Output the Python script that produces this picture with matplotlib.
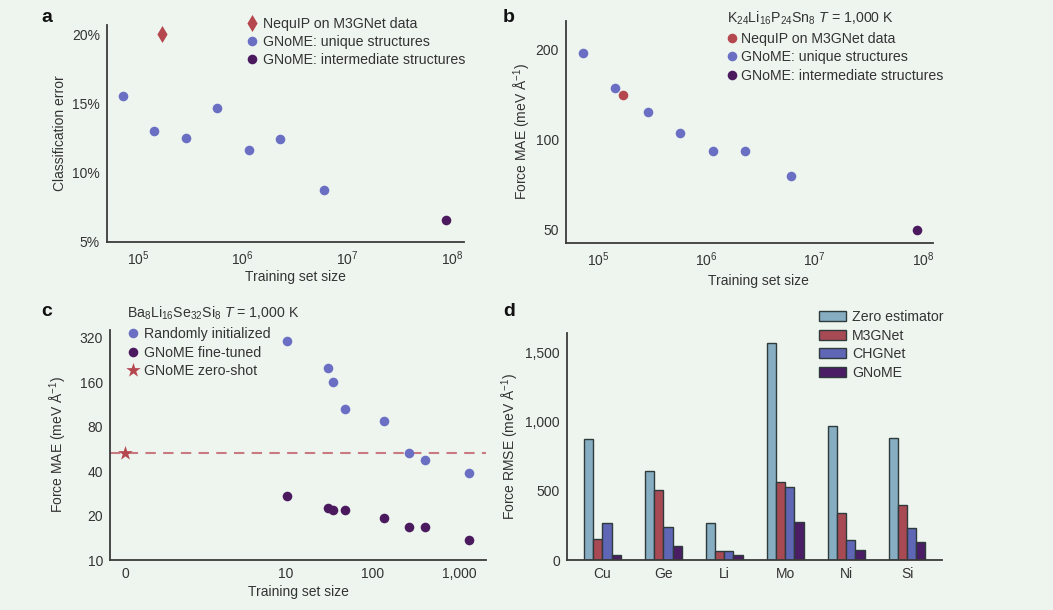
import numpy as np
import matplotlib
matplotlib.use("Agg")
import matplotlib.pyplot as plt

# ---- data ----
# a / b : training-set scaling
sizes_unique = [7.2e4, 1.43e5, 2.9e5, 5.7e5, 1.14e6, 2.28e6, 6.05e6]
sizes_intermediate = [8.8e7]
sizes_nequip = [1.7e5]

a_err_unique = [15.5, 13.0, 12.5, 14.7, 11.6, 12.4, 8.75]
a_err_intermediate = [6.6]
a_err_nequip = [20.0]

b_mae_unique = [195, 149, 124, 105, 91.6, 92, 75.8]
b_mae_intermediate = [50]
b_mae_nequip = [141]

# c : Ba8Li16Se32Si8 fine-tuning
c_sizes = [10.5, 30.8, 35.7, 48.3, 137, 266, 405, 1283]
c_mae_random = [305, 199, 160, 106, 87, 53, 47.7, 38.6]
c_mae_finetuned = [27.3, 22.4, 21.9, 21.8, 19.2, 16.8, 16.8, 13.7]
c_zeroshot_size = [0]
c_zeroshot_mae = [53]

# d : force RMSE per element
elements = ["Cu", "Ge", "Li", "Mo", "Ni", "Si"]
d_models = ["Zero estimator", "M3GNet", "CHGNet", "GNoME"]
d_zero = [877, 648, 267, 1568, 971, 881]
d_m3gnet = [154, 506, 67, 566, 344, 395]
d_chgnet = [267, 241, 67, 530, 142, 229]
d_gnome = [38, 104, 34, 272, 72, 128]

# ---- style ----
BG = "#eef5ef"
TXT = "#333333"
BLUE = "#6a6fc4"
PURPLE = "#4b1a5e"
RED = "#b5474f"
BAR_COLORS = ["#86adc1", "#a84a54", "#5f66b5", "#4a1d64"]

plt.rcParams["font.family"] = ["Liberation Sans", "DejaVu Sans"]
plt.rcParams["font.size"] = 10
plt.rcParams["mathtext.fontset"] = "custom"
plt.rcParams["mathtext.rm"] = "Liberation Sans"
plt.rcParams["mathtext.it"] = "Liberation Sans:italic"
plt.rcParams["mathtext.default"] = "regular"
plt.rcParams["text.color"] = TXT
plt.rcParams["axes.labelcolor"] = TXT
plt.rcParams["xtick.color"] = TXT
plt.rcParams["ytick.color"] = TXT

W, H = 1053, 610
fig = plt.figure(figsize=(W / 100, H / 100), dpi=100, facecolor=BG)


def add_axes(l, t, r, b):
    # pixel box -> figure fraction
    return fig.add_axes([l / W, 1 - b / H, (r - l) / W, (b - t) / H], facecolor=BG)


def style(ax):
    for s in ("top", "right"):
        ax.spines[s].set_visible(False)
    for s in ("left", "bottom"):
        ax.spines[s].set_color("#3a3a3a")
        ax.spines[s].set_linewidth(1.3)
    ax.tick_params(which="both", length=0, pad=5, labelsize=10)
    ax.minorticks_off()


def fig_anchor(x, y):
    return (x / W, 1 - y / H)


ms = 48
yl_mae = "Force MAE (meV Å$^{-1}$)"
leg_kw = dict(bbox_transform=fig.transFigure, frameon=False, borderpad=0,
              borderaxespad=0, fontsize=10.2, scatteryoffsets=[0.5])

# ---- panel a ----
ax = add_axes(107, 25, 464, 242)
style(ax)
ax.set_xscale("log")
ax.scatter(sizes_nequip, a_err_nequip, marker="d", s=75, color=RED, lw=0,
           label="NequIP on M3GNet data")
ax.scatter(sizes_unique, a_err_unique, s=ms, color=BLUE, lw=0,
           label="GNoME: unique structures")
ax.scatter(sizes_intermediate, a_err_intermediate, s=ms, color=PURPLE, lw=0,
           label="GNoME: intermediate structures")
ax.set_xlim(10 ** 4.704, 10 ** 8.115)
ax.set_ylim(5, 20.65)
ax.set_xticks([1e5, 1e6, 1e7, 1e8])
ax.set_xticklabels([r"$10^{5}$", r"$10^{6}$", r"$10^{7}$", r"$10^{8}$"])
ax.minorticks_off()
ax.set_yticks([5, 10, 15, 20])
ax.set_yticklabels(["5%", "10%", "15%", "20%"])
ax.set_xlabel("Training set size")
ax.xaxis.set_label_coords((295 - 107) / (464 - 107), -0.13)
ax.set_ylabel("Classification error", labelpad=4)
ax.legend(loc="upper left", bbox_to_anchor=fig_anchor(246, 17),
          handlelength=0.8, handletextpad=0.43, labelspacing=0.27, **leg_kw)

# ---- panel b ----
ax = add_axes(566, 21, 933, 243)
style(ax)
ax.set_xscale("log")
ax.set_yscale("log")
ax.scatter(sizes_nequip, b_mae_nequip, s=ms, color=RED, lw=0, label="NequIP on M3GNet data", zorder=3)
ax.scatter(sizes_unique, b_mae_unique, s=ms, color=BLUE, lw=0, label="GNoME: unique structures")
ax.scatter(sizes_intermediate, b_mae_intermediate, s=ms, color=PURPLE, lw=0,
           label="GNoME: intermediate structures")
ax.set_xlim(10 ** 4.704, 10 ** 8.092)
ax.set_ylim(45.2, 249)
ax.set_xticks([1e5, 1e6, 1e7, 1e8])
ax.set_xticklabels([r"$10^{5}$", r"$10^{6}$", r"$10^{7}$", r"$10^{8}$"])
ax.set_yticks([50, 100, 200])
ax.set_yticklabels(["50", "100", "200"])
ax.minorticks_off()
ax.set_xlabel("Training set size")
ax.xaxis.set_label_coords((758 - 566) / (933 - 566), -0.14)
ax.set_ylabel(yl_mae, labelpad=2)
ax.legend(loc="upper left", bbox_to_anchor=fig_anchor(727, 10),
          handlelength=0.7, handletextpad=0.32, labelspacing=0.31,
          title=r"K$_{24}$Li$_{16}$P$_{24}$Sn$_{8}$ $\mathit{T}$ = 1,000 K",
          title_fontsize=10.2, alignment="left", **leg_kw)

# ---- panel c ----
ax = add_axes(110, 330, 486, 560)
style(ax)
ax.set_xscale("symlog", linthresh=10, linscale=1.652)
ax.set_yscale("log")
ax.axhline(c_zeroshot_mae[0], color="#c97a80", lw=1.5, ls=(0, (5, 3.5)), zorder=1)
ax.scatter(c_sizes, c_mae_random, s=ms, color=BLUE, lw=0, label="Randomly initialized", zorder=3)
ax.scatter(c_sizes, c_mae_finetuned, s=ms, color=PURPLE, lw=0, label="GNoME fine-tuned", zorder=3)
ax.scatter(c_zeroshot_size, c_zeroshot_mae, marker="*", s=120, color=RED, lw=0,
           label="GNoME zero-shot", zorder=3)
ax.set_xlim(-0.96, 2010)
ax.set_ylim(10, 361)
ax.set_xticks([0, 10, 100, 1000])
ax.set_xticklabels(["0", "10", "100", "1,000"])
ax.set_yticks([10, 20, 40, 80, 160, 320])
ax.set_yticklabels(["10", "20", "40", "80", "160", "320"])
ax.minorticks_off()
ax.set_xlabel("Training set size", labelpad=3)
ax.set_ylabel(yl_mae, labelpad=8)
ax.legend(loc="upper left", bbox_to_anchor=fig_anchor(127, 305),
          handlelength=0.8, handletextpad=0.4, labelspacing=0.33,
          title=r"Ba$_{8}$Li$_{16}$Se$_{32}$Si$_{8}$ $\mathit{T}$ = 1,000 K",
          title_fontsize=10.2, alignment="left", **leg_kw)

# ---- panel d ----
ax = add_axes(567, 333, 942, 560)
style(ax)
x = np.arange(len(elements))
bw = 0.151
for i, (vals, name) in enumerate(zip([d_zero, d_m3gnet, d_chgnet, d_gnome], d_models)):
    ax.bar(x + (i - 1.5) * bw, vals, width=bw, color=BAR_COLORS[i], edgecolor="#2f3a3c",
           linewidth=1.0, label=name)
ax.set_xlim(-0.582, 5.574)
ax.set_ylim(0, 1644)
ax.set_xticks(x)
ax.set_xticklabels(elements)
ax.set_yticks([0, 500, 1000, 1500])
ax.set_yticklabels(["0", "500", "1,000", "1,500"])
ax.set_ylabel("Force RMSE (meV Å$^{-1}$)", labelpad=3)
ax.legend(loc="upper left", bbox_to_anchor=fig_anchor(819, 310),
          handlelength=1.92, handleheight=0.7, handletextpad=0.41,
          labelspacing=0.32, bbox_transform=fig.transFigure, frameon=False,
          borderpad=0, borderaxespad=0, fontsize=10.2)

# panel letters
for letter, (px, py) in zip("abcd", [(47, 17), (509, 17), (47, 312), (509, 312)]):
    fig.text(px / W, 1 - py / H, letter, fontsize=14, fontweight="bold", color="#111111",
             ha="center", va="center")

fig.savefig("out.png", dpi=100, facecolor=BG)
